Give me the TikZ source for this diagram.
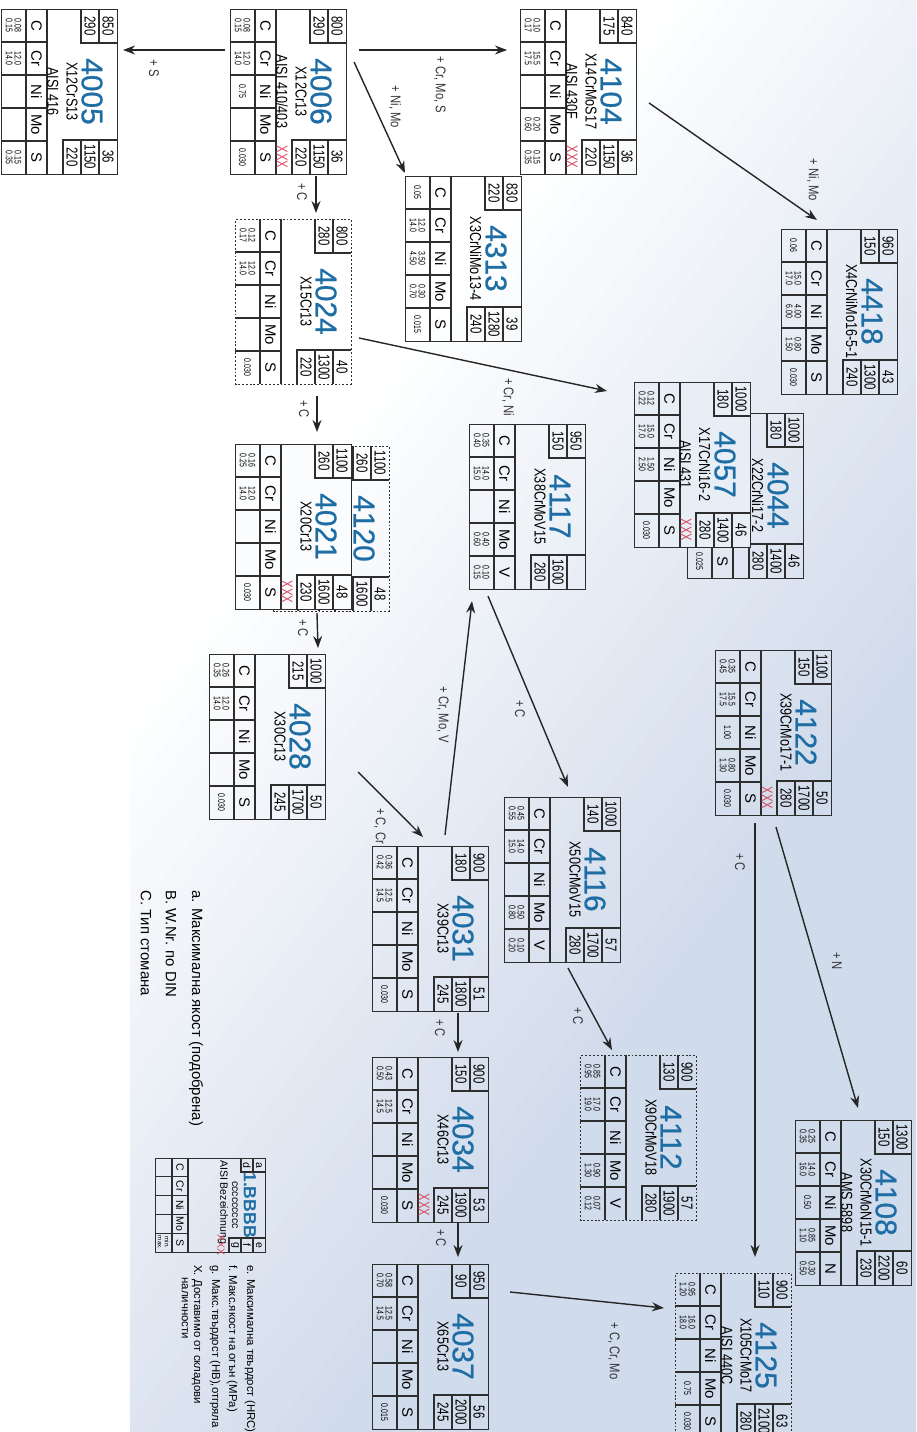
\documentclass[tikz,border=0pt]{standalone}
\usepackage{fontspec}
\setmainfont{Liberation Sans}
\newfontfamily\condfont{Liberation Sans}[FakeStretch=0.72]
\newfontfamily\namefont{Liberation Sans}[FakeStretch=0.8]
\newfontfamily\numfont{Liberation Sans}[FakeBold=0.8]
\usetikzlibrary{positioning,arrows.meta,calc}
\definecolor{steelblue}{HTML}{1E6EA5}
\definecolor{xxxred}{HTML}{D84A60}
\definecolor{bgblue}{HTML}{D0DBEB}
\definecolor{linegray}{HTML}{2E2E2E}
\tikzset{
  >=Stealth,
  steelframe/.style={draw=linegray, line width=0.6pt, minimum width=3.3cm,
    minimum height=2.32cm, inner sep=0pt, anchor=south west},
  dotframe/.style={dash pattern=on 1.1pt off 1.1pt},
  cell/.style={draw=linegray, line width=0.6pt},
  cellnum/.style={font=\condfont\fontsize{9}{9}\selectfont, inner sep=0pt},
  steelno/.style={font=\numfont\fontsize{17}{17}\selectfont, text=steelblue, inner sep=0pt},
  steelname/.style={font=\namefont\fontsize{9}{11}\selectfont, align=center,
    inner sep=0pt, anchor=north},
  elem/.style={font=\fontsize{8.5}{8.5}\selectfont, inner sep=0pt},
  chem/.style={font=\condfont\fontsize{5.5}{5}\selectfont, align=center, inner sep=0pt},
  xxx/.style={font=\condfont\fontsize{9}{9}\selectfont, text=xxxred, inner sep=0pt},
  arr/.style={->, >={Stealth[length=2.4mm,width=1.8mm]}, line width=0.8pt, draw=black!85},
  lbl/.style={font=\namefont\fontsize{8}{8}\selectfont, text=black!80, inner sep=0pt},
  legtext/.style={font=\fontsize{8.5}{8.5}\selectfont, anchor=west, inner sep=0pt},
  legsmall/.style={font=\fontsize{6.5}{6.5}\selectfont, anchor=west, inner sep=0pt},
}
% one steel card: [frame options]{W.Nr.}{origin}{left cells}{right cells}{names}{element/value pairs}
\newcommand{\steelbox}[7][]{%
  \begin{scope}[shift={#3}]
    \node[steelframe,#1] (b#2) at (0,0) {};
    \draw[cell] (0,25) -- (165,25) (0,46) -- (165,46);
    \foreach \k in {1,...,4}
      \draw[cell] (33*\k,0) -- (33*\k,46);
    \draw[cell] (0,80) -- (34,80) -- (34,116) (0,98) -- (34,98);
    \draw[cell] (165,62) -- (131,62) -- (131,116) (131,80) -- (165,80) (131,98) -- (165,98);
    \foreach \v [count=\n] in {#4}
      \node[cellnum] (b#2-l\n) at (17,125-18*\n) {\v};
    \foreach \v [count=\n] in {#5}
      \node[cellnum] (b#2-r\n) at (148,125-18*\n) {\v};
    \node[steelno] (b#2-no) at (82.5,91) {#2};
    \node[steelname] (b#2-name) at (82.5,77) {#6};
    \foreach \el/\val [count=\n] in {#7} {
      \node[elem] (b#2-e\n) at (33*\n-16.5,35.5) {\el};
      \node[chem] (b#2-v\n) at (33*\n-16.5,12.5) {\val};
    }
  \end{scope}}
\newcommand{\xxxmark}[1]{\node[xxx] (x#1) at ($(b#1.south west)+(148,52)$) {XXX};}

\begin{document}
\begin{tikzpicture}
\begin{scope}[x=0.2mm, y=0.2mm, rotate=-90, transform shape]
\useasboundingbox (0,0) rectangle (1432,916);

% background: white top left, pale blue towards the lower right
\begin{scope}
  \clip (0,0) rectangle (1432,916);
  \fill[white] (0,0) rectangle (1432,916);
  \begin{scope}[rotate=53]
    \foreach \i [evaluate=\i as \c using \i*100/30] in {0,...,30}
      \fill[bgblue!\c!white] (520+20*\i,-2000) rectangle (542+20*\i,2000);
    \fill[bgblue] (1140,-2000) rectangle (2500,2000);
  \end{scope}
\end{scope}
\fill[white] (655,0) rectangle (1432,130);

% cards
\steelbox{4005}{(9,1)}{850,290}{36,1150,220}{X12CrS13\\AISI 416}
  {C/0.08\\0.15,Cr/12.0\\14.0,Ni/,Mo/,S/0.15\\0.35}
\steelbox{4006}{(9,230)}{800,290}{36,1150,220}{X12Cr13\\AISI 410/403}
  {C/0.08\\0.15,Cr/12.0\\14.0,Ni/0.75,Mo/,S/0.030}
\xxxmark{4006}
\steelbox{4104}{(9,520)}{840,175}{36,1150,220}{X14CrMoS17\\AISI 430F}
  {C/0.10\\0.17,Cr/15.5\\17.5,Ni/,Mo/0.20\\0.60,S/0.15\\0.35}
\xxxmark{4104}
\steelbox{4313}{(176,405)}{830,220}{39,1280,240}{X3CrNiMo13-4}
  {C/0.05,Cr/12.0\\14.0,Ni/3.50\\4.50,Mo/0.30\\0.70,S/0.015}
\steelbox{4418}{(229,781)}{960,150}{43,1300,240}{X4CrNiMo16-5-1}
  {C/0.06,Cr/15.0\\17.0,Ni/4.00\\6.00,Mo/0.80\\1.50,S/0.030}
\steelbox[dotframe]{4024}{(219,235)}{800,280}{40,1300,220}{X15Cr13}
  {C/0.12\\0.17,Cr/12.0\\14.0,Ni/,Mo/,S/0.030}
\steelbox{4044}{(413,687)}{1000,180}{46,1400,280}{X22CrNi17-2}
  {/,/,/,/,S/0.025}
\steelbox[fill=bgblue!48!white]{4057}{(382,634)}{1000,180}{46,1400,280}{X17CrNi16-2\\AISI 431}
  {C/0.12\\0.22,Cr/15.0\\17.0,Ni/1.50\\2.50,Mo/,S/0.030}
\xxxmark{4057}
\steelbox[dotframe]{4120}{(446,273)}{1100,260}{48,1600}{}
  {/,/,/,/,/}
\steelbox[fill=bgblue!8!white]{4021}{(444,235)}{1100,260}{48,1600,230}{X20Cr13}
  {C/0.16\\0.25,Cr/12.0\\14.0,Ni/,Mo/,S/0.030}
\xxxmark{4021}
\steelbox{4117}{(424,469)}{950,150}{{},1600,280}{X38CrMoV15}
  {C/0.35\\0.40,Cr/14.0\\15.0,Ni/,Mo/0.40\\0.60,V/0.10\\0.15}
\steelbox{4122}{(650,715)}{1100,150}{50,1700,280}{X39CrMo17-1}
  {C/0.35\\0.45,Cr/15.5\\17.5,Ni/1.00,Mo/0.80\\1.30,S/0.030}
\xxxmark{4122}
\steelbox{4028}{(654,209)}{1000,215}{50,1700,245}{X30Cr13}
  {C/0.26\\0.35,Cr/12.0\\14.0,Ni/,Mo/,S/0.030}
\steelbox{4116}{(797,504)}{1000,140}{57,1700,280}{X50CrMoV15}
  {C/0.45\\0.55,Cr/14.0\\15.0,Ni/,Mo/0.50\\0.80,V/0.10\\0.20}
\steelbox{4031}{(846,372)}{900,180}{51,1800,245}{X39Cr13}
  {C/0.36\\0.42,Cr/12.5\\14.5,Ni/,Mo/,S/0.030}
\steelbox{4034}{(1057,372)}{900,150}{53,1900,245}{X46Cr13}
  {C/0.43\\0.50,Cr/12.5\\14.5,Ni/,Mo/,S/0.030}
\xxxmark{4034}
\steelbox{4037}{(1264,372)}{950,90}{56,2000,245}{X65Cr13}
  {C/0.58\\0.70,Cr/12.5\\14.5,Ni/,Mo/,S/0.015}
\steelbox[dotframe]{4112}{(1055,580)}{900,130}{57,1900,280}{X90CrMoV18}
  {C/0.85\\0.95,Cr/17.0\\19.0,Ni/,Mo/0.90\\1.30,V/0.07\\0.12}
\steelbox{4108}{(1120,795)}{1300,150}{60,2200,230}{X30CrMoN15-1\\AMS 5898}
  {C/0.25\\0.35,Cr/14.0\\16.0,Ni/0.50,Mo/0.85\\1.10,N/0.30\\0.50}
\steelbox[dotframe]{4125}{(1273,675)}{900,110}{63,2100,280}{X105CrMo17\\AISI 440C}
  {C/0.95\\1.20,Cr/16.0\\18.0,Ni/,Mo/0.75,S/0.030}

% connectors
\draw[arr] ($(b4006.south west)+(41,-5)$) -- ($(b4005.north west)+(41,5)$);
\draw[arr] ($(b4006.north west)+(41,12)$) -- ($(b4104.south west)+(41,-13)$);
\draw[arr] ($(b4006.north west)+(53,7)$) -- ($(b4313.south west)+(-3,0)$);
\draw[arr] ($(b4006.south east)+(1,86)$) -- ($(b4024.south west)+(-6,81)$);
\draw[arr] ($(b4104.north west)+(94,12)$) -- ($(b4418.south west)+(-9,36)$);
\draw[arr] ($(b4024.north west)+(119,7)$) -- ($(b4057.south west)+(9,-27)$);
\draw[arr] ($(b4024.south east)+(11,82)$) -- ($(b4021.south west)+(-12,82)$);
\draw[arr] ($(b4021.south east)+(3,82)$) -- ($(b4028.south west)+(-6,109)$);
\draw[arr] ($(b4031.south west)+(-11,73)$) -- ($(b4117.south east)+(11,3)$);
\draw[arr] ($(b4117.south east)+(6,19)$) -- ($(b4116.south west)+(-10,64)$);
\draw[arr] ($(b4028.north west)+(118,32)$) -- ($(b4031.south west)+(-9,51)$);
\draw[arr] ($(b4031.south east)+(1,86)$) -- ($(b4034.south west)+(-5,86)$);
\draw[arr] ($(b4034.south east)+(0,86)$) -- ($(b4037.south west)+(-7,86)$);
\draw[arr] ($(b4037.north west)+(28,21)$) -- ($(b4125.south west)+(35,-11)$);
\draw[arr] ($(b4116.south east)+(5,64)$) -- ($(b4112.south west)+(-5,32)$);
\draw[arr] ($(b4122.south east)+(7,40)$) -- ($(b4125.south west)+(-16,80)$);
\draw[arr] ($(b4122.south east)+(11,61)$) -- ($(b4108.south west)+(-12,63)$);

% connector labels
\node[lbl] (t1) at (68,154) {+ S};
\node[lbl] (t2) at (85,440) {+ Cr, Mo, S};
\node[lbl] (t3) at (107,395) {+ Ni, Mo};
\node[lbl] (t4) at (192,302) {+ C};
\node[lbl] (t5) at (180,813) {+ Ni, Mo};
\node[lbl] (t6) at (397,508) {+ Cr, Ni};
\node[lbl] (t7) at (409,304) {+ C};
\node[lbl] (t8) at (628,303) {+ C};
\node[lbl] (t9) at (715,443) {+ Cr, Mo, V};
\node[lbl] (t10) at (709,520) {+ C};
\node[lbl] (t11) at (826,380) {+ C, Cr};
\node[lbl] (t12) at (1028,440) {+ C};
\node[lbl] (t13) at (1238,441) {+ C};
\node[lbl] (t14) at (1351,614) {+ C, Cr, Mo};
\node[lbl] (t15) at (1016,578) {+ C};
\node[lbl] (t16) at (862,740) {+ C};
\node[lbl] (t17) at (961,837) {+ N};

% legend
\begin{scope}[shift={(1158,155)}]
  \node[steelframe, minimum width=1.88cm, minimum height=2.2cm] (legend) at (0,0) {};
  \draw[cell] (0,17) -- (94,17) (0,33) -- (94,33);
  \foreach \k in {1,...,4}
    \draw[cell] (18.8*\k,0) -- (18.8*\k,33);
  \draw[cell] (0,86) -- (14,86) -- (14,110) (0,98) -- (14,98);
  \draw[cell] (94,74) -- (80,74) -- (80,110) (80,86) -- (94,86) (80,98) -- (94,98);
  \node[cellnum, font=\fontsize{6}{6}\selectfont] (leg-a) at (7,104) {a};
  \node[cellnum, font=\fontsize{6}{6}\selectfont] (leg-d) at (7,92) {d};
  \node[cellnum, font=\fontsize{6}{6}\selectfont] (leg-e) at (87,104) {e};
  \node[cellnum, font=\fontsize{6}{6}\selectfont] (leg-f) at (87,92) {f};
  \node[cellnum, font=\fontsize{6}{6}\selectfont] (leg-g) at (87,80) {g};
  \node[steelno, font=\bfseries\fontsize{10}{10}\selectfont] (leg-no) at (47,95) {1.BBBB};
  \node[cellnum, font=\fontsize{6}{6}\selectfont] (leg-c) at (47,80) {ccccccccc};
  \node[cellnum, font=\fontsize{6}{6}\selectfont] (leg-aisi) at (44,68) {AISI Bezeichnung};
  \node[xxx, font=\fontsize{6}{6}\selectfont] (leg-x) at (87,66) {XXX};
  \foreach \el [count=\n] in {C,Cr,Ni,Mo,S}
    \node[elem, font=\fontsize{6}{6}\selectfont] (leg-e\n) at (18.8*\n-9.4,25) {\el};
  \node[chem, font=\fontsize{3.5}{4}\selectfont] (leg-mm) at (84.6,8.5) {min.\\max.};
\end{scope}
\node[legtext] (la) at (890,196) {a. Максимална якост (подобрена)};
\node[legtext] (lb) at (890,171) {B. W.Nr. по DIN};
\node[legtext] (lc) at (890,146) {C. Тип стомана};
\node[legsmall] (le) at (1265,250) {e. Максимална твърдост (HRC)};
\node[legsmall] (lf) at (1265,232) {f. Макс.якост на огън (MPa)};
\node[legsmall] (lg) at (1265,215) {g. Макс.твърдост (HB),отгряла};
\node[legsmall] (lx) at (1265,197) {X. Доставимо от складови};
\node[legsmall] (lx2) at (1277,185) {наличности};
\end{scope}
\end{tikzpicture}
\end{document}
